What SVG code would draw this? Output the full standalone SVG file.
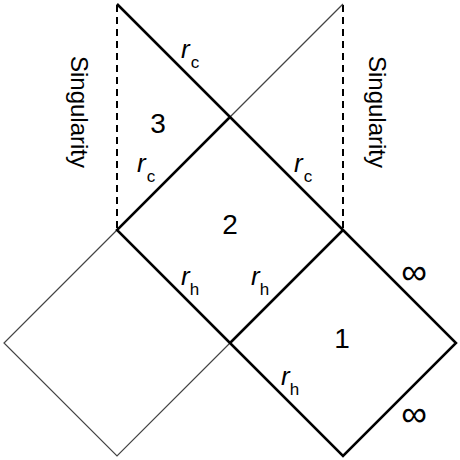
<svg xmlns="http://www.w3.org/2000/svg" width="460" height="460" viewBox="0 0 460 460">
<style>
.thick{fill:none;stroke:#000;stroke-width:2.5;stroke-linejoin:miter}
.thin{fill:none;stroke:#444;stroke-width:1.2}
.dash{fill:none;stroke:#000;stroke-width:2;stroke-dasharray:7,5}
text{font-family:"Liberation Sans",Arial,sans-serif;fill:#000}
.num{font-size:28px;text-anchor:middle}
.r{font-size:26px;font-style:italic}
.sub{font-size:17px}
.sing{font-size:24px;text-anchor:middle}
.inf{font-size:36px;text-anchor:middle}
</style>
<rect width="460" height="460" fill="#fff"/>
<g id="connectors">
<line class="dash" x1="117" y1="5" x2="117" y2="230"/>
<line class="dash" x1="343" y1="5" x2="343" y2="230"/>
<polyline class="thin" points="343,4 230,117"/>
<polyline class="thin" points="117,230 4,343 117,456 230,343"/>
<polyline class="thick" points="117,4 230,117 343,230 456,343 343,456 230,343 117,230 230,117"/>
<line class="thick" x1="343" y1="230" x2="230" y2="343"/>
</g>
<g id="region3"><text class="num" x="158" y="133">3</text></g>
<g id="region2"><text class="num" x="230" y="234">2</text></g>
<g id="region1"><text class="num" x="342" y="348">1</text></g>
<g id="singularity-left"><text class="sing" transform="translate(71,112) rotate(90)">Singularity</text></g>
<g id="singularity-right"><text class="sing" transform="translate(369,112) rotate(90)">Singularity</text></g>
<g id="labels">
<text x="181" y="58"><tspan class="r">r</tspan><tspan class="sub" dx="1" dy="10">c</tspan></text>
<text x="137" y="172"><tspan class="r">r</tspan><tspan class="sub" dx="1" dy="10">c</tspan></text>
<text x="294" y="172"><tspan class="r">r</tspan><tspan class="sub" dx="1" dy="10">c</tspan></text>
<text x="181" y="285"><tspan class="r">r</tspan><tspan class="sub" dx="0" dy="10">h</tspan></text>
<text x="251" y="285"><tspan class="r">r</tspan><tspan class="sub" dx="0" dy="10">h</tspan></text>
<text x="281" y="385"><tspan class="r">r</tspan><tspan class="sub" dx="0" dy="10">h</tspan></text>
<text class="inf" x="414" y="284">∞</text>
<text class="inf" x="414" y="426">∞</text>
</g>
</svg>
